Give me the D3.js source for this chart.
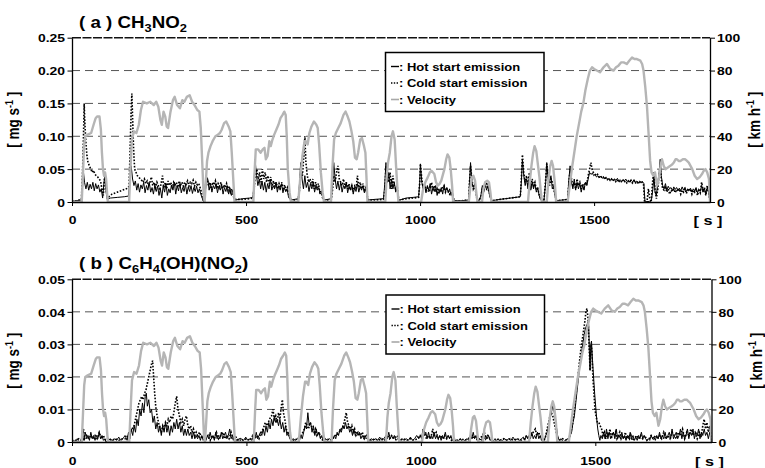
<!DOCTYPE html>
<html><head><meta charset="utf-8">
<script src="https://cdn.jsdelivr.net/npm/d3@7"></script>
<style>
body{margin:0;background:#fff}
svg text{font-family:Arial,"Liberation Sans",sans-serif;font-weight:bold;fill:#000}
</style>
</head><body>
<svg id="chart" width="765" height="468"></svg>
<script>
// ---------- data ----------
const timeDomain = [0, 1833];
const xTicks = [0, 500, 1000, 1500];
const velTicks = [0, 20, 40, 60, 80, 100];
const ticksA = [0, 0.05, 0.10, 0.15, 0.20, 0.25];
const ticksB = [0, 0.01, 0.02, 0.03, 0.04, 0.05];
const legendLabels = ["Hot start emission", "Cold start emission", "Velocity"];

// velocity [s, km/h]
const velocity = [
[0,0],[28,0],[32,20],[35,35],[38,40],[45,41],[55,42],[62,47],[68,51],[72,52],[79,52],[83,44],[86,30],[89,20],[92,16],[95,18],[98,14],[101,5],[103,0],
[164,0],[168,20],[172,38],[178,43],[185,42],[192,47],[198,56],[204,61],[215,60],[225,61],[235,59],[242,61],[248,58],[254,50],[258,47],[263,55],[268,52],[272,46],[276,45],[283,55],[290,62],[295,64],[302,59],[310,57],[317,62],[323,61],[330,64],[338,65],[345,61],[352,59],[360,56],[366,55],[370,45],[374,25],[378,5],[381,0],[384,10],[388,25],[392,30],[398,34],[404,37],[412,40],[419,41],[425,42],[430,44],[437,48],[443,49],[450,46],[455,43],[459,30],[463,15],[467,0],
[521,0],[525,20],[528,32],[535,32],[542,30],[548,32],[553,33],[557,26],[562,28],[567,37],[571,34],[576,38],[581,41],[587,44],[593,47],[599,51],[605,53],[610,55],[614,53],[617,40],[620,20],[625,6],[629,0],
[650,0],[656,15],[662,28],[668,37],[672,37],[677,35],[682,42],[688,46],[695,49],[702,47],[706,45],[710,35],[715,18],[720,6],[724,0],
[744,0],[748,20],[753,38],[758,42],[765,45],[772,48],[780,53],[786,55],[792,52],[797,49],[803,43],[808,37],[813,27],[818,26],[822,30],[828,38],[833,39],[839,34],[843,30],[846,15],[849,0],
[900,0],[904,15],[908,24],[913,30],[918,40],[922,43],[927,38],[931,22],[935,8],[938,0],
[1003,0],[1008,7],[1015,12],[1022,15],[1028,18],[1033,19],[1041,17],[1046,12],[1051,10],[1056,11],[1061,13],[1066,17],[1070,20],[1075,26],[1079,29],[1084,27],[1088,20],[1092,10],[1095,0],
[1140,0],[1144,8],[1149,15],[1153,16],[1158,13],[1162,5],[1165,0],
[1178,0],[1182,8],[1187,12],[1193,13],[1198,12],[1202,6],[1205,0],
[1310,0],[1315,12],[1320,22],[1325,30],[1329,34],[1334,31],[1339,22],[1343,15],[1347,6],[1350,0],
[1364,0],[1369,14],[1374,22],[1378,25],[1382,22],[1387,12],[1391,0],
[1424,0],[1430,10],[1436,20],[1443,30],[1450,40],[1457,48],[1463,55],[1469,60],[1475,68],[1482,75],[1488,80],[1494,82],[1500,81],[1508,80],[1517,79],[1527,82],[1537,84],[1546,81],[1556,80],[1563,82],[1570,83],[1578,85],[1585,85],[1594,84],[1601,86],[1609,88],[1616,87],[1623,87],[1633,86],[1638,84],[1642,80],[1647,70],[1652,58],[1657,40],[1661,25],[1665,18],[1670,16],[1675,18],[1681,10],[1686,14],[1691,22],[1695,26],[1700,22],[1705,20],[1712,21],[1719,22],[1725,23],[1729,24],[1734,26],[1738,26],[1743,25],[1748,25],[1755,26],[1762,26],[1767,25],[1772,24],[1777,22],[1782,20],[1789,16],[1796,14],[1803,15],[1810,17],[1815,19],[1820,20],[1825,18],[1830,14],[1833,0]
];

// (a) CH3NO2 hot start [s, mg/s]
const hotA = [
[0,.001],[14,.002],[27,.003],[30,.02],[33,.045],[36,.03],[40,.02],[44,.03],[48,.018],[52,.027],[56,.02],[60,.03],[64,.017],[68,.028],[72,.02],[76,.026],[80,.015],[84,.02],[88,.006],[92,.03],[95,.04],[98,.015],[101,.004],
[110,.006],[130,.007],[150,.008],[162,.009],
[166,.03],[170,.055],[174,.035],[178,.025],[182,.032],[186,.018],[190,.028],[194,.015],[198,.026],[202,.02],[206,.03],[210,.014],[214,.025],[218,.018],[222,.03],[226,.015],[230,.022],[234,.012],[238,.026],[242,.016],[246,.024],[250,.01],[254,.02],[258,.006],[262,.025],[266,.015],[270,.028],[274,.01],[278,.02],[282,.014],[286,.026],[290,.018],[294,.03],[298,.012],[302,.025],[306,.017],[310,.028],[314,.014],[318,.022],[322,.016],[326,.027],[330,.012],[334,.023],[338,.016],[342,.025],[346,.013],[350,.022],[354,.016],[358,.024],[362,.014],[366,.02],[370,.012],[374,.006],[378,.001],
[382,.012],[386,.03],[390,.035],[394,.018],[398,.028],[402,.015],[406,.025],[410,.02],[414,.028],[418,.014],[422,.024],[426,.018],[430,.026],[434,.012],[438,.022],[442,.016],[446,.025],[450,.012],[454,.02],[458,.01],[462,.018],[466,.004],[470,.003],
[490,.005],[510,.006],[520,.007],
[523,.03],[526,.065],[530,.04],[534,.025],[538,.035],[542,.02],[546,.032],[550,.018],[554,.03],[558,.015],[562,.028],[566,.02],[570,.035],[574,.018],[578,.025],[582,.02],[586,.03],[590,.015],[594,.025],[598,.018],[602,.028],[606,.014],[610,.022],[614,.016],[618,.02],[622,.008],[626,.004],[630,.003],
[640,.004],[650,.005],
[654,.03],[657,.06],[661,.035],[665,.02],[669,.04],[673,.022],[677,.03],[681,.016],[685,.028],[689,.02],[693,.03],[697,.015],[701,.025],[705,.018],[709,.022],[713,.012],[717,.015],[721,.005],[725,.003],
[735,.004],[745,.005],
[749,.03],[752,.06],[756,.035],[760,.02],[764,.032],[768,.018],[772,.03],[776,.015],[780,.025],[784,.02],[788,.03],[792,.014],[796,.024],[800,.018],[804,.026],[808,.012],[812,.022],[816,.016],[820,.028],[824,.015],[828,.024],[832,.018],[836,.025],[840,.014],[844,.02],[848,.008],[851,.003],
[870,.004],[895,.005],
[899,.03],[902,.06],[906,.03],[910,.045],[914,.02],[918,.035],[922,.02],[926,.03],[930,.015],[934,.02],[938,.005],[941,.003],
[960,.006],[980,.007],[996,.008],
[999,.03],[1001,.058],[1005,.03],[1009,.02],[1013,.028],[1017,.014],[1021,.025],[1025,.018],[1029,.028],[1033,.012],[1037,.022],[1041,.016],[1045,.025],[1049,.01],[1053,.02],[1057,.015],[1061,.022],[1065,.012],[1069,.025],[1073,.016],[1077,.022],[1081,.014],[1085,.02],[1089,.01],[1093,.015],[1097,.004],[1100,.002],
[1120,.002],[1140,.003],
[1142,.03],[1145,.06],[1149,.03],[1153,.022],[1157,.028],[1161,.015],[1164,.003],[1170,.002],[1175,.01],[1179,.025],[1183,.015],[1187,.03],[1191,.018],[1195,.025],[1199,.012],[1203,.004],[1207,.002],
[1230,.004],[1260,.006],[1288,.008],
[1291,.03],[1294,.065],[1298,.04],[1302,.025],[1306,.035],[1310,.02],[1314,.04],[1318,.018],[1322,.03],[1326,.02],[1330,.028],[1334,.015],[1338,.022],[1342,.01],[1346,.004],[1350,.002],
[1356,.003],[1361,.03],[1364,.06],[1368,.035],[1372,.03],[1376,.04],[1380,.02],[1384,.025],[1388,.008],[1392,.002],
[1410,.003],[1424,.004],
[1427,.03],[1431,.055],[1435,.03],[1439,.02],[1443,.035],[1447,.018],[1451,.03],[1455,.02],[1459,.028],[1463,.015],[1467,.025],[1471,.018],[1475,.03],[1479,.025],[1483,.035],[1487,.045],[1491,.042],[1495,.044],[1499,.04],[1503,.042],[1507,.038],[1511,.04],[1515,.037],[1519,.039],[1523,.036],[1527,.038],[1531,.035],[1535,.037],[1539,.034],[1543,.036],[1547,.033],[1551,.035],[1555,.032],[1559,.035],[1563,.033],[1567,.036],[1571,.032],[1575,.034],[1579,.031],[1583,.034],[1587,.032],[1591,.035],[1595,.031],[1599,.033],[1603,.03],[1607,.033],[1611,.031],[1615,.034],[1619,.03],[1623,.032],[1627,.029],[1631,.032],[1635,.03],[1639,.031],[1643,.028],[1646,.002],[1650,0],[1655,.001],[1660,0],[1665,.004],[1669,.02],[1672,.04],[1675,.015],[1679,.01],[1683,.03],[1687,.045],[1690,.065],[1693,.04],[1697,.025],[1701,.02],[1705,.028],[1709,.018],[1713,.024],[1717,.02],[1721,.022],[1725,.017],[1729,.023],[1733,.019],[1737,.022],[1741,.018],[1745,.021],[1749,.017],[1753,.023],[1757,.018],[1761,.022],[1765,.016],[1769,.02],[1773,.018],[1777,.021],[1781,.015],[1785,.02],[1789,.017],[1793,.022],[1797,.014],[1801,.019],[1805,.016],[1809,.025],[1813,.015],[1817,.02],[1821,.012],[1825,.022],[1829,.015],[1832,.005],[1833,0]
];

// (a) CH3NO2 cold start [s, mg/s]
const coldA = [
[0,.001],[14,.002],[27,.004],[30,.04],[33,.1],[35,.15],[37,.12],[40,.09],[43,.07],[46,.06],[50,.055],[54,.05],[58,.045],[62,.048],[66,.042],[70,.04],[74,.038],[78,.035],[82,.032],[86,.02],[90,.01],[93,.035],[95,.042],[98,.02],[101,.01],[106,.008],[115,.012],[130,.015],[145,.018],[160,.021],[164,.024],
[167,.08],[170,.14],[172,.165],[174,.13],[177,.08],[180,.05],[184,.045],[188,.04],[192,.038],[196,.035],[200,.033],[204,.03],[208,.035],[212,.028],[216,.032],[220,.025],[224,.03],[228,.038],[232,.025],[236,.03],[240,.022],[244,.03],[248,.025],[252,.018],[256,.028],[260,.04],[264,.022],[268,.03],[272,.02],[276,.032],[280,.025],[284,.03],[288,.02],[292,.03],[296,.026],[300,.03],[304,.022],[308,.032],[312,.026],[316,.03],[320,.024],[324,.03],[328,.027],[332,.032],[336,.024],[340,.03],[344,.028],[348,.033],[352,.024],[356,.03],[360,.026],[364,.028],[368,.022],[372,.015],[376,.005],[379,0],
[382,.015],[385,.035],[388,.038],[392,.025],[396,.03],[400,.02],[404,.03],[408,.026],[412,.032],[416,.02],[420,.028],[424,.024],[428,.03],[432,.02],[436,.026],[440,.022],[444,.028],[448,.018],[452,.024],[456,.015],[460,.02],[464,.008],[468,.004],
[490,.004],[510,.005],[520,.006],
[523,.02],[527,.04],[531,.05],[535,.035],[539,.045],[543,.03],[547,.05],[551,.035],[555,.045],[559,.03],[563,.04],[567,.028],[571,.038],[575,.025],[579,.032],[583,.024],[587,.03],[591,.02],[595,.028],[599,.022],[603,.03],[607,.018],[611,.026],[615,.018],[619,.022],[623,.01],[627,.004],
[640,.003],[650,.004],
[654,.02],[658,.05],[662,.04],[666,.07],[669,.1],[672,.06],[676,.04],[680,.03],[684,.035],[688,.025],[692,.035],[696,.02],[700,.03],[704,.022],[708,.028],[712,.015],[716,.018],[720,.006],[724,.003],
[735,.003],[745,.004],
[749,.02],[752,.04],[756,.03],[760,.045],[764,.055],[768,.035],[772,.03],[776,.025],[780,.035],[784,.022],[788,.03],[792,.02],[796,.028],[800,.018],[804,.025],[808,.016],[812,.024],[816,.02],[820,.04],[824,.022],[828,.03],[832,.02],[836,.028],[840,.018],[844,.022],[848,.01],[851,.003],
[870,.003],[895,.004],
[899,.02],[902,.055],[906,.04],[910,.03],[914,.045],[918,.02],[922,.04],[926,.025],[930,.02],[934,.025],[938,.006],[941,.003],
[960,.005],[980,.006],[996,.007],
[999,.03],[1001,.058],[1005,.035],[1009,.02],[1013,.025],[1017,.018],[1021,.022],[1025,.015],[1029,.02],[1033,.03],[1037,.018],[1041,.025],[1045,.015],[1049,.02],[1053,.012],[1057,.018],[1061,.015],[1065,.022],[1069,.025],[1073,.015],[1077,.02],[1081,.018],[1085,.012],[1089,.015],[1093,.01],[1097,.004],[1100,.002],
[1120,.002],[1140,.003],
[1142,.03],[1145,.055],[1149,.035],[1153,.02],[1157,.025],[1161,.012],[1164,.003],[1170,.002],[1175,.01],[1179,.02],[1183,.018],[1187,.022],[1191,.03],[1195,.02],[1199,.015],[1203,.005],[1207,.002],
[1230,.004],[1260,.006],[1288,.008],
[1291,.035],[1294,.072],[1298,.045],[1302,.03],[1306,.04],[1310,.025],[1314,.045],[1318,.02],[1322,.035],[1326,.025],[1330,.03],[1334,.018],[1338,.02],[1342,.012],[1346,.005],[1350,.002],
[1356,.003],[1361,.035],[1364,.058],[1368,.04],[1372,.025],[1376,.035],[1380,.03],[1384,.02],[1388,.01],[1392,.002],
[1410,.003],[1424,.004],
[1427,.025],[1431,.05],[1435,.035],[1439,.025],[1443,.03],[1447,.02],[1451,.035],[1455,.025],[1459,.03],[1463,.02],[1467,.028],[1471,.022],[1475,.03],[1479,.028],[1483,.04],[1487,.05],[1491,.06],[1494,.05],[1498,.045],[1502,.043],[1506,.04],[1510,.042],[1514,.038],[1518,.04],[1522,.037],[1526,.038],[1530,.035],[1534,.037],[1538,.034],[1542,.036],[1546,.033],[1550,.035],[1554,.032],[1558,.034],[1562,.031],[1566,.034],[1570,.03],[1574,.033],[1578,.031],[1582,.034],[1586,.03],[1590,.032],[1594,.029],[1598,.032],[1602,.03],[1606,.033],[1610,.029],[1614,.032],[1618,.028],[1622,.031],[1626,.029],[1630,.031],[1634,.028],[1638,.03],[1642,.027],[1645,0],[1652,0],[1656,.02],[1660,.005],[1664,0],[1668,.03],[1671,.045],[1675,.02],[1679,.005],[1683,.02],[1687,.04],[1690,.055],[1693,.035],[1697,.02],[1701,.018],[1705,.022],[1709,.015],[1713,.02],[1717,.012],[1721,.018],[1725,.016],[1729,.02],[1733,.014],[1737,.019],[1741,.016],[1745,.02],[1749,.012],[1753,.018],[1757,.015],[1761,.02],[1765,.013],[1769,.018],[1773,.016],[1777,.02],[1781,.012],[1785,.018],[1789,.015],[1793,.02],[1797,.01],[1801,.018],[1805,.014],[1809,.03],[1813,.018],[1817,.022],[1821,.01],[1825,.025],[1829,.015],[1832,.005],[1833,0]
];

// (b) C6H4(OH)(NO2) hot start [s, mg/s]
const hotB = [
[0,0],[5,.0005],[10,0],[15,.001],[20,0],[25,.0005],[30,.002],[34,.0005],[38,.003],[42,.001],[46,.002],[50,.0005],[54,.003],[58,.001],[62,.002],[66,.0005],[70,.002],[74,.001],[78,.003],[82,.001],[86,.002],[90,.0005],[94,.001],[98,0],[104,.0005],[110,.001],[116,.0003],[122,.001],[128,.0005],[134,.0015],[140,.0005],[146,.001],[152,.002],[158,.0005],[162,.003],[166,.001],[170,.004],[174,.002],[178,.005],[182,.003],[186,.007],[190,.005],[194,.01],[198,.008],[202,.012],[206,.009],[210,.014],[213,.015],[216,.011],[220,.013],[224,.009],[228,.01],[232,.006],[236,.008],[240,.004],[244,.006],[248,.003],[252,.005],[256,.002],[260,.005],[264,.003],[268,.006],[272,.003],[276,.005],[280,.002],[284,.005],[288,.003],[292,.006],[296,.004],[300,.007],[304,.004],[308,.006],[312,.003],[316,.005],[320,.002],[324,.004],[328,.002],[332,.004],[336,.002],[340,.003],[344,.001],[348,.003],[352,.001],[356,.002],[360,.001],[364,.002],[368,.0005],[372,.002],[376,.0005],[380,.001],[384,.0005],[388,.002],[392,.001],[396,.003],[400,.001],[404,.002],[408,.0005],[412,.003],[416,.001],[420,.002],[424,.001],[428,.003],[432,.001],[436,.002],[440,.003],[444,.001],[448,.002],[452,.004],[456,.001],[460,.002],[464,.0005],[468,.001],[472,.0005],[476,.001],[480,0],[486,.001],[492,.0005],[498,.0015],[504,.0005],[510,.001],[516,.0005],[520,.002],[524,.001],[528,.003],[532,.001],[536,.002],[540,.003],[544,.002],[548,.004],[552,.002],[556,.005],[560,.003],[564,.006],[568,.004],[572,.007],[576,.005],[580,.008],[584,.006],[588,.007],[592,.005],[596,.007],[600,.004],[604,.006],[608,.003],[612,.005],[616,.002],[620,.003],[624,.001],[628,.0005],[634,.001],[640,.0005],[646,.001],[652,.0005],[656,.002],[660,.001],[664,.003],[668,.005],[672,.004],[676,.009],[680,.005],[684,.006],[688,.003],[692,.005],[696,.002],[700,.004],[704,.002],[708,.003],[712,.001],[716,.002],[720,.0005],[726,.001],[732,.0005],[738,.001],[744,.0005],[748,.001],[752,.002],[756,.001],[760,.003],[764,.002],[768,.004],[772,.003],[776,.005],[780,.004],[784,.006],[788,.004],[792,.005],[796,.003],[800,.004],[804,.002],[808,.004],[812,.002],[816,.003],[820,.002],[824,.003],[828,.001],[832,.002],[836,.001],[840,.002],[844,.001],[848,.0015],[852,.0005],[858,.001],[864,.0005],[870,.001],[876,.0005],[882,.0015],[888,.0005],[894,.001],[900,.002],[904,.001],[908,.003],[912,.001],[916,.002],[920,.001],[924,.002],[928,.0005],[934,.001],[940,.0005],[946,.001],[952,.0005],[958,.001],[964,.0005],[970,.0015],[976,.0005],[982,.001],[988,.002],[994,.001],[998,.002],[1002,.001],[1006,.004],[1010,.002],[1014,.003],[1018,.001],[1022,.003],[1026,.001],[1030,.002],[1034,.001],[1038,.003],[1042,.001],[1046,.002],[1050,.001],[1054,.002],[1058,.0005],[1062,.002],[1066,.001],[1070,.003],[1074,.001],[1078,.002],[1082,.001],[1086,.002],[1090,.0005],[1096,.001],[1102,0],[1108,.0005],[1114,.001],[1120,0],[1126,.0005],[1132,.001],[1138,.0005],[1142,.002],[1146,.001],[1150,.003],[1154,.001],[1158,.002],[1162,.0005],[1168,.001],[1174,.0005],[1178,.002],[1182,.001],[1186,.002],[1190,.001],[1194,.002],[1198,.0005],[1204,.001],[1210,0],[1216,.0005],[1222,.001],[1228,0],[1234,.0005],[1240,.001],[1246,.0005],[1252,.001],[1258,.0005],[1264,.0015],[1270,.0005],[1276,.001],[1282,.0005],[1288,.001],[1294,.0015],[1298,.0005],[1302,.002],[1306,.001],[1310,.002],[1314,.001],[1318,.003],[1322,.001],[1326,.002],[1330,.001],[1334,.003],[1338,.001],[1342,.002],[1346,.0005],[1350,.001],[1354,.0005],[1358,.002],[1362,.003],[1366,.005],[1370,.007],[1374,.009],[1378,.011],[1381,.01],[1384,.008],[1388,.005],[1392,.002],[1396,.0005],[1402,.001],[1408,0],[1414,.0005],[1420,.001],[1424,.0005],[1428,.002],[1432,.003],[1436,.006],[1440,.008],[1444,.012],[1448,.016],[1452,.02],[1456,.024],[1460,.027],[1464,.03],[1468,.033],[1472,.035],[1476,.036],[1479,.037],[1481,.036],[1483,.028],[1485,.022],[1487,.03],[1489,.031],[1492,.025],[1495,.02],[1498,.015],[1501,.011],[1504,.007],[1507,.004],[1510,.002],[1513,.0005],[1516,.002],[1520,.001],[1524,.003],[1528,.001],[1532,.004],[1536,.001],[1540,.003],[1544,.001],[1548,.002],[1552,.003],[1556,.001],[1560,.004],[1564,.001],[1568,.002],[1572,.001],[1576,.003],[1580,.001],[1584,.002],[1588,.0005],[1592,.002],[1596,.001],[1600,.003],[1604,.001],[1608,.002],[1612,.0005],[1616,.0015],[1620,.0005],[1624,.002],[1628,.001],[1632,.003],[1636,.001],[1640,.002],[1644,.001],[1648,.0005],[1652,.001],[1656,.0005],[1660,.002],[1664,.001],[1668,.0015],[1672,.0005],[1676,.002],[1680,.001],[1684,.003],[1688,.001],[1692,.002],[1696,.001],[1700,.003],[1704,.001],[1708,.002],[1712,.003],[1716,.001],[1720,.004],[1724,.001],[1728,.002],[1732,.003],[1736,.001],[1740,.002],[1744,.004],[1748,.001],[1752,.003],[1756,.001],[1760,.002],[1764,.004],[1768,.001],[1772,.003],[1776,.002],[1780,.004],[1784,.001],[1788,.003],[1792,.002],[1796,.004],[1800,.001],[1804,.003],[1808,.002],[1812,.004],[1816,.002],[1820,.003],[1824,.001],[1828,.003],[1832,.001],[1833,0]
];

// (b) C6H4(OH)(NO2) cold start [s, mg/s]
const coldB = [
[0,0],[10,.0005],[20,.001],[28,.0005],[33,.004],[36,.001],[42,.002],[48,.001],[54,.002],[60,.001],[66,.002],[72,.001],[78,.003],[84,.001],[90,.002],[96,.0005],[104,.001],[114,.0005],[124,.001],[134,.0005],[144,.001],[154,.001],[160,.002],[166,.003],[172,.004],[178,.005],[184,.008],[188,.01],[192,.012],[196,.013],[200,.014],[204,.013],[208,.015],[212,.016],[216,.018],[220,.02],[224,.022],[228,.024],[231,.025],[234,.02],[237,.015],[240,.011],[244,.008],[248,.006],[252,.004],[256,.003],[260,.005],[264,.004],[268,.006],[272,.005],[276,.007],[280,.006],[284,.008],[288,.007],[292,.009],[296,.012],[300,.014],[304,.01],[308,.008],[312,.006],[316,.007],[320,.005],[324,.007],[328,.008],[332,.005],[336,.004],[340,.005],[344,.003],[348,.004],[352,.002],[356,.003],[360,.002],[366,.003],[372,.001],[378,.002],[384,.001],[390,.002],[396,.0005],[402,.002],[408,.001],[414,.003],[420,.001],[426,.002],[432,.003],[438,.001],[444,.002],[450,.001],[456,.003],[462,.001],[468,.002],[474,.0005],[482,.001],[490,.0005],[500,.001],[510,.0005],[518,.002],[524,.001],[530,.002],[536,.001],[542,.003],[548,.004],[554,.006],[560,.005],[566,.007],[572,.008],[576,.01],[580,.007],[584,.008],[588,.006],[592,.009],[596,.007],[600,.011],[603,.013],[606,.009],[610,.007],[614,.004],[618,.003],[622,.002],[628,.001],[636,.0005],[646,.001],[656,.002],[662,.003],[666,.004],[670,.006],[674,.005],[678,.004],[682,.006],[686,.005],[690,.004],[694,.003],[698,.004],[702,.002],[708,.003],[714,.001],[720,.0005],[730,.001],[740,.0005],[748,.001],[754,.002],[760,.002],[766,.003],[772,.004],[778,.005],[782,.007],[786,.009],[790,.006],[794,.005],[798,.004],[802,.005],[806,.003],[810,.004],[814,.002],[820,.003],[826,.002],[832,.003],[838,.001],[844,.002],[850,.001],[858,.0005],[868,.001],[878,.0005],[888,.001],[896,.0005],[904,.002],[910,.001],[916,.002],[924,.001],[932,.002],[940,.0005],[950,.001],[960,.0005],[970,.001],[980,.0005],[990,.001],[998,.002],[1004,.001],[1010,.003],[1016,.001],[1022,.002],[1028,.001],[1034,.004],[1038,.002],[1044,.003],[1050,.001],[1056,.002],[1062,.001],[1068,.002],[1074,.001],[1080,.002],[1088,.0005],[1096,.001],[1106,.0005],[1116,.001],[1126,.0005],[1136,.001],[1144,.002],[1150,.001],[1156,.002],[1162,.0005],[1170,.001],[1176,.002],[1182,.003],[1186,.001],[1192,.002],[1198,.001],[1206,.0005],[1216,.001],[1226,.0005],[1236,.001],[1246,.0005],[1256,.001],[1266,.0005],[1276,.001],[1286,.0005],[1296,.001],[1304,.002],[1310,.001],[1316,.002],[1322,.003],[1328,.004],[1332,.002],[1338,.003],[1344,.001],[1350,.0005],[1356,.001],[1362,.004],[1366,.006],[1370,.008],[1374,.009],[1378,.008],[1382,.006],[1386,.004],[1390,.002],[1396,.0005],[1406,.001],[1416,.0005],[1424,.001],[1430,.003],[1434,.005],[1438,.008],[1442,.012],[1446,.016],[1450,.02],[1454,.024],[1458,.028],[1462,.031],[1466,.034],[1470,.037],[1473,.04],[1476,.041],[1479,.038],[1482,.03],[1485,.022],[1488,.03],[1490,.028],[1493,.02],[1496,.015],[1499,.01],[1502,.008],[1506,.006],[1510,.006],[1514,.005],[1518,.004],[1522,.002],[1526,.003],[1530,.001],[1534,.003],[1538,.002],[1542,.004],[1546,.001],[1550,.003],[1554,.002],[1558,.003],[1562,.001],[1566,.002],[1570,.003],[1574,.001],[1578,.002],[1582,.001],[1586,.003],[1590,.001],[1594,.002],[1598,.001],[1602,.002],[1606,.0005],[1612,.001],[1618,.002],[1624,.001],[1630,.002],[1636,.001],[1642,.002],[1648,.0005],[1654,.001],[1660,.002],[1666,.001],[1672,.002],[1678,.001],[1684,.002],[1690,.001],[1696,.003],[1702,.001],[1708,.002],[1714,.001],[1720,.003],[1726,.002],[1732,.001],[1738,.003],[1744,.002],[1750,.004],[1756,.001],[1762,.003],[1768,.002],[1774,.004],[1780,.002],[1786,.003],[1792,.001],[1798,.003],[1804,.002],[1808,.005],[1812,.007],[1816,.004],[1820,.006],[1824,.003],[1828,.005],[1832,.002],[1833,0]
];

// ---------- drawing ----------
const svg = d3.select("#chart");
const SX = 1.2; // horizontal glyph stretch seen in the reference
const fmtY = v => v === 0 ? "0" : d3.format(".2f")(v);
const fmtX = d3.format("d");

function drawPanel(cfg) {
  const g = svg.append("g");
  const x = d3.scaleLinear().domain(timeDomain).range([cfg.l, cfg.r]);
  const y = d3.scaleLinear().domain([0, cfg.ymax]).range([cfg.b, cfg.t]);
  const yv = d3.scaleLinear().domain([0, 100]).range([cfg.b, cfg.t]);

  // gridlines
  g.selectAll(".grid").data(cfg.ticks.filter(v => v > 0)).join("line")
    .attr("x1", cfg.l).attr("x2", cfg.r)
    .attr("y1", d => y(d)).attr("y2", d => y(d))
    .attr("stroke", d => d === cfg.ymax ? "#111" : "#555")
    .attr("stroke-width", d => d === cfg.ymax ? 1.4 : 1)
    .attr("stroke-dasharray", d => d === cfg.ymax ? "9,1.5" : "8,5");

  const clipId = "clip" + cfg.id;
  svg.append("clipPath").attr("id", clipId).append("rect")
    .attr("x", cfg.l).attr("y", cfg.t - 2).attr("width", cfg.r - cfg.l).attr("height", cfg.b - cfg.t + 2);
  const lines = g.append("g").attr("clip-path", `url(#${clipId})`);

  const lineV = d3.line().x(d => x(d[0])).y(d => yv(d[1]));
  const lineE = d3.line().x(d => x(d[0])).y(d => y(d[1]));

  lines.append("path").datum(cfg.cold).attr("d", lineE)
    .attr("fill", "none").attr("stroke", "#000").attr("stroke-width", 1.6)
    .attr("stroke-dasharray", "1.6,1.6");
  lines.append("path").datum(cfg.hot).attr("d", lineE)
    .attr("fill", "none").attr("stroke", "#000").attr("stroke-width", 1);
  lines.append("path").datum(velocity).attr("d", lineV)
    .attr("fill", "none").attr("stroke", "#b5b5b5").attr("stroke-width", 2.4)
    .attr("stroke-linejoin", "round");

  // axes
  const left = g.append("g").attr("transform", `translate(${cfg.l},0)`)
    .call(d3.axisLeft(y).tickValues(cfg.ticks).tickSize(4.5).tickSizeOuter(0).tickFormat(fmtY));
  const right = g.append("g").attr("transform", `translate(${cfg.r},0)`)
    .call(d3.axisRight(yv).tickValues(velTicks).tickSize(5).tickSizeOuter(0));
  const bottom = g.append("g").attr("transform", `translate(0,${cfg.b})`)
    .call(d3.axisBottom(x).tickValues(xTicks).tickSize(4).tickSizeOuter(0).tickFormat(fmtX));

  [left, right, bottom].forEach(a => {
    a.select(".domain").attr("stroke", "#000").attr("stroke-width", 1.3);
    a.selectAll(".tick line").attr("stroke", "#000").attr("stroke-width", 1);
    a.selectAll(".tick text").attr("font-size", 11.6).attr("font-weight", "bold")
      .attr("font-family", 'Arial, "Liberation Sans", sans-serif').attr("fill", "#000");
  });
  left.selectAll(".tick text").attr("x", -7 / SX).attr("dy", "0.36em").attr("transform", `scale(${SX},1)`);
  right.selectAll(".tick text").attr("x", 7 / SX).attr("dy", "0.36em").attr("transform", `scale(${SX},1)`);
  bottom.selectAll(".tick text").attr("y", cfg.xLabY).attr("dy", 0).attr("transform", `scale(${SX},1)`);

  // "[ s ]"
  g.append("text").attr("transform", `translate(${cfg.r - 2},${cfg.b + cfg.xLabY + 1}) scale(${SX},1)`)
    .attr("text-anchor", "middle").attr("font-size", 13.5).text("[ s ]");

  // title with subscripts
  const title = g.append("text").attr("transform", `translate(${cfg.l + 7},${cfg.t - 10}) scale(${SX - 0.03},1)`)
    .attr("font-size", 16);
  cfg.title.forEach(p => {
    if (p.sub) title.append("tspan").attr("font-size", 11).attr("dy", 4).text(p.s);
    else title.append("tspan").attr("dy", p.after ? -4 : 0).text(p.s);
  });

  // axis titles
  const yt = g.append("text").attr("transform", `translate(${cfg.l - 53},${(cfg.t + cfg.b) / 2}) rotate(-90) scale(1,${SX})`)
    .attr("text-anchor", "middle").attr("font-size", 13.5);
  yt.append("tspan").text("[ mg s");
  yt.append("tspan").attr("font-size", 9).attr("dy", -5).text("-1");
  yt.append("tspan").attr("dy", 5).text(" ]");
  const rt = g.append("text").attr("transform", `translate(${cfg.r + 50},${(cfg.t + cfg.b) / 2}) rotate(-90) scale(1,${SX})`)
    .attr("text-anchor", "middle").attr("font-size", 13.5);
  rt.append("tspan").text("[ km h");
  rt.append("tspan").attr("font-size", 9).attr("dy", -5).text("-1");
  rt.append("tspan").attr("dy", 5).text(" ]");

  // legend
  const lg = g.append("g").attr("transform", `translate(${cfg.lgx},${cfg.lgy})`);
  lg.append("rect").attr("x", 0).attr("y", 0).attr("width", 158.5).attr("height", 59)
    .attr("fill", "#fff").attr("stroke", "#000").attr("stroke-width", 1.5);
  const styles = [
    {stroke: "#000", w: 1.4, dash: null},
    {stroke: "#000", w: 1.4, dash: "1.4,1.4"},
    {stroke: "#a8a8a8", w: 1.6, dash: null}
  ];
  legendLabels.forEach((lab, i) => {
    const by = 18 + i * 16.5;
    lg.append("line").attr("x1", 5.5).attr("x2", 13.5).attr("y1", by - 4).attr("y2", by - 4)
      .attr("stroke", styles[i].stroke).attr("stroke-width", styles[i].w)
      .attr("stroke-dasharray", styles[i].dash);
    lg.append("text").attr("transform", `translate(13.5,${by}) scale(1.12,1)`)
      .attr("font-size", 11.6).text(": " + lab);
  });
}

drawPanel({
  id: "A", l: 72, r: 710, t: 37.7, b: 202, ymax: 0.25, ticks: ticksA,
  hot: hotA, cold: coldA, xLabY: 22, lgx: 385.5, lgy: 52.5,
  title: [{s: "( a ) CH"}, {s: "3", sub: true}, {s: "NO", after: true}, {s: "2", sub: true}]
});
drawPanel({
  id: "B", l: 72, r: 711.5, t: 279.3, b: 442, ymax: 0.05, ticks: ticksB,
  hot: hotB, cold: coldB, xLabY: 23, lgx: 386, lgy: 295,
  title: [{s: "( b ) C"}, {s: "6", sub: true}, {s: "H", after: true}, {s: "4", sub: true}, {s: "(OH)(NO", after: true}, {s: "2", sub: true}, {s: ")", after: true}]
});
</script>
</body></html>
